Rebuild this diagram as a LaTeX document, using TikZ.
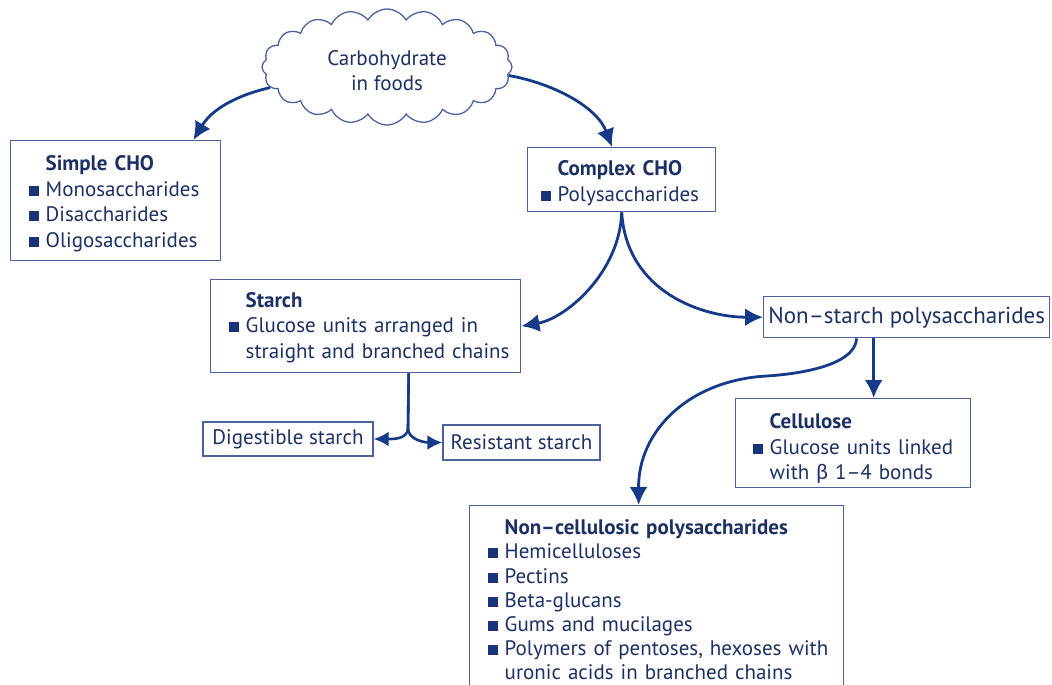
\documentclass[tikz,border=0pt]{standalone}
\usepackage{fontspec}
\setmainfont{PT Sans}
\newfontfamily\grk{Lato}
\usetikzlibrary{shapes.symbols,arrows.meta}
\definecolor{txt}{RGB}{28,48,98}
\definecolor{edge}{RGB}{75,98,158}
\definecolor{arr}{RGB}{22,58,135}
\definecolor{bul}{RGB}{25,50,120}
\newcommand{\bsq}{\textcolor{bul}{\rule[0.5pt]{10pt}{10pt}}}
\begin{document}
\begin{tikzpicture}[x=1pt,y=-1pt,
  box/.style={draw=edge, line width=1.4pt, text=txt, fill=white,
    font=\fontsize{21}{25.5}\selectfont},
  listbox/.style={box, anchor=north west, align=left},
  conn/.style={draw=arr, line width=2.8pt, -{Latex[length=18pt,width=18pt]}},
  smallconn/.style={draw=arr, line width=2.6pt, -{Latex[length=15pt,width=15pt]}},
  ]
\useasboundingbox (0,0) rectangle (1052,685);
\clip (0,0) rectangle (1052,685);
\fill[white] (0,0) rectangle (1052,685);

% cloud
\node[cloud, cloud puffs=20, cloud puff arc=120, cloud ignores aspect,
  draw=edge, line width=1.3pt, minimum width=250pt, minimum height=116pt,
  text=txt, align=center, font=\fontsize{21}{25}\selectfont] (cloud) at (387,67)
  {Carbohydrate\\in foods\vspace*{-7pt}};

% boxes
\node[listbox, inner xsep=18pt, text width=174pt, minimum height=120pt] (simple) at (10,140)
 {\begin{tabular}{@{}l@{\hspace{7pt}}l@{}}
  & \textbf{Simple CHO}\\
  \bsq & Monosaccharides\\
  \bsq & Disaccharides\\
  \bsq & Oligosaccharides
 \end{tabular}\vspace*{-6pt}};

\node[listbox, inner xsep=13pt, text width=162pt, minimum height=64pt] (complex) at (527,147)
 {\begin{tabular}{@{}l@{\hspace{7pt}}l@{}}
  & \textbf{Complex CHO}\\
  \bsq & Polysaccharides
 \end{tabular}\vspace*{-7pt}};

\node[listbox, inner xsep=18pt, text width=274pt, minimum height=93pt] (starch) at (210,279)
 {\begin{tabular}{@{}l@{\hspace{7pt}}l@{}}
  & \textbf{Starch}\\
  \bsq & Glucose units arranged in\\
  & straight and branched chains
 \end{tabular}\vspace*{-3pt}};

\node[box, minimum width=170pt, minimum height=34pt] (dig) at (288,439) {Digestible starch};
\node[box, minimum width=157pt, minimum height=35pt] (res) at (521.5,442.5) {Resistant starch};

\node[box, anchor=north west, minimum width=286pt, minimum height=41pt,
  font=\fontsize{23}{27}\selectfont] (ns) at (763,296)
 {Non–starch polysaccharides};

\node[listbox, inner xsep=17pt, text width=201pt, minimum height=89pt] (cell) at (735,398)
 {\begin{tabular}{@{}l@{\hspace{7pt}}l@{}}
  & \textbf{Cellulose}\\
  \bsq & Glucose units linked\\
  & with {\grk β} 1–4 bonds
 \end{tabular}\vspace*{-12pt}};

\node[listbox, inner xsep=18pt, inner ysep=12pt, text width=338pt,
  font=\fontsize{21}{24.2}\selectfont] (noncell) at (469,505)
 {\begin{tabular}{@{}l@{\hspace{7pt}}l@{}}
  & \textbf{Non–cellulosic polysaccharides}\\
  \bsq & Hemicelluloses\\
  \bsq & Pectins\\
  \bsq & Beta-glucans\\
  \bsq & Gums and mucilages\\
  \bsq & Polymers of pentoses, hexoses with\\
  & uronic acids in branched chains\\
  & \strut
 \end{tabular}};

% connectors
\draw[conn] (cloud.190) .. controls +(-35,8) and +(18,-30) .. ([xshift=-28pt]simple.north east);
\draw[conn] (cloud.356) .. controls +(45,8) and +(-15,-40) .. ([xshift=85pt]complex.north west);
\draw[conn] (complex.south) .. controls +(-2,60) and +(45,-8) .. (starch.east);
\draw[conn] (complex.south) .. controls +(5,80) and +(-60,0) .. (ns.west);

\coordinate (split) at (408,428);
\draw[smallconn] ([xshift=43pt]starch.south) -- (split) .. controls +(0,12) and +(17,0) .. (dig.east);
\draw[smallconn] ([xshift=43pt]starch.south) -- (split) .. controls +(0,12) and +(-17,0) .. (res.west);

\coordinate (bend) at (767,376);
\draw[conn] ([xshift=-50pt]ns.south) .. controls +(-2,28) and +(30,-2) .. (bend)
  .. controls (690,380) and (638,430) .. ([xshift=-18pt]noncell.north);
\draw[conn] ([xshift=-33pt]ns.south) -- ([xshift=-33pt]ns.south |- cell.north);
\end{tikzpicture}
\end{document}
